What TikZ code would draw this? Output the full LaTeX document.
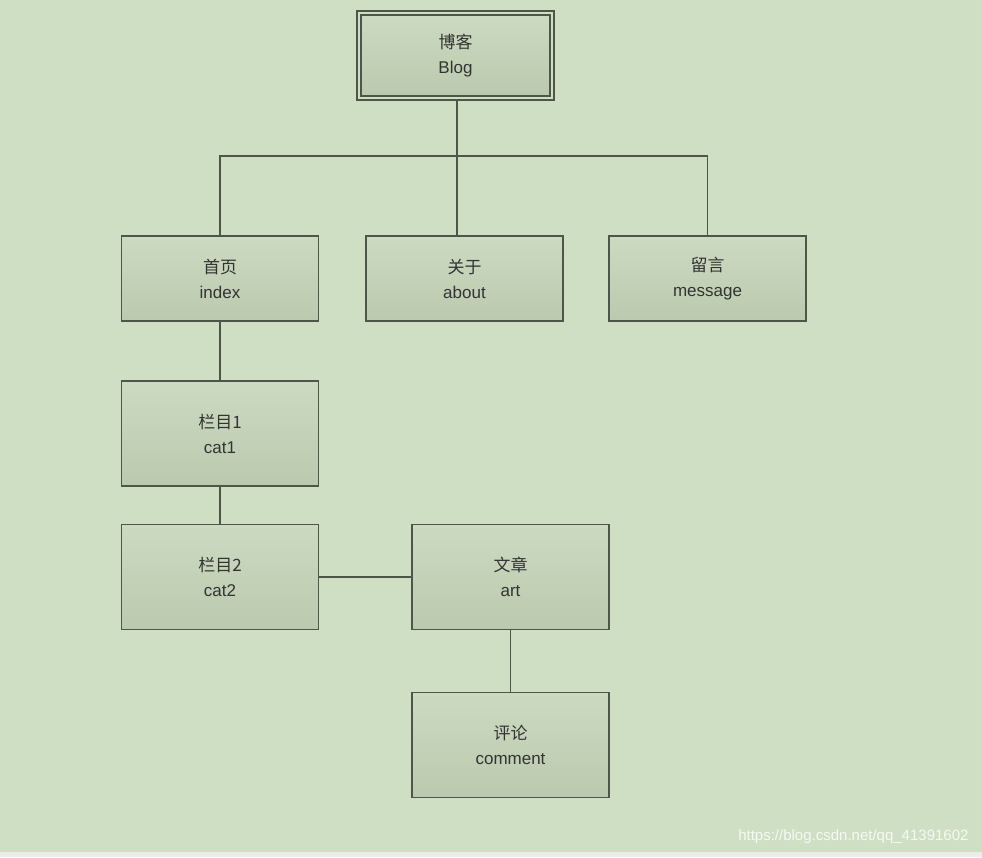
\documentclass[tikz,border=0pt]{standalone}
\usepackage{fontspec}
\setmainfont{Liberation Sans}
\newfontfamily\cjk{Noto Sans CJK SC}
\usetikzlibrary{positioning,calc}
\definecolor{bgGreen}{HTML}{CFDFC3}
\definecolor{boxTop}{HTML}{CBDAC0}
\definecolor{boxBot}{HTML}{BBCAAF}
\definecolor{edgeGray}{HTML}{4E5549}
\newcommand{\twoline}[2]{{\cjk #1}\\#2}

\begin{document}
\begin{tikzpicture}[
    x=1pt, y=-1pt,
    page/.style={fill=bgGreen, draw=none},
    item/.style={
        rectangle, draw=edgeGray, line width=1.2pt,
        top color=boxTop, bottom color=boxBot,
        align=center, font=\fontsize{17}{25}\selectfont, text=black!80,
        minimum width=197pt, inner sep=0},
    link/.style={draw=edgeGray, line width=1.2pt}]
\fill[page] (0,0) rectangle (982,857);
\fill[gray!15] (0,852) rectangle (982,857);
\useasboundingbox (0,0) rectangle (982,857);

% root
\node[item, minimum width=197pt, minimum height=89pt, top color=bgGreen, bottom color=bgGreen] (blogouter) at (455.5,55.5) {};
\node[item, minimum width=189pt, minimum height=81pt] (blog) at (455.5,55.5) {\twoline{博客}{Blog}};

% first level
\node[item, minimum height=85pt] (index) at (220,278.5) {\twoline{首页}{index}};
\node[item, minimum height=85pt] (about) at (464.5,278.5) {\twoline{关于}{about}};
\node[item, minimum height=85pt] (message) at (707.5,278.5) {\twoline{留言}{message}};

% columns
\node[item, minimum height=105pt] (cat1) at (220,433.5) {\twoline{栏目1}{cat1}};
\node[item, minimum height=105pt] (cat2) at (220,577) {\twoline{栏目2}{cat2}};
\node[item, minimum height=105pt] (art) at (510.5,577) {\twoline{文章}{art}};
\node[item, minimum height=105pt] (comment) at (510.5,745) {\twoline{评论}{comment}};

\coordinate (bus) at (457,156);
\draw[link] (blogouter.south -| bus) -- (bus);
\draw[link] (index.north) |- (bus) -| (message.north);
\draw[link] (bus) -- (about.north -| bus);
\draw[link] (index) -- (cat1);
\draw[link] (cat1) -- (cat2);
\draw[link] (cat2) -- (art);
\draw[link] (art) -- (comment);

\node[anchor=east, text=white!80!bgGreen, font=\fontsize{15}{17}\selectfont] (mark) at (972,837) {https://blog.csdn.net/qq\_41391602};
\end{tikzpicture}
\end{document}
